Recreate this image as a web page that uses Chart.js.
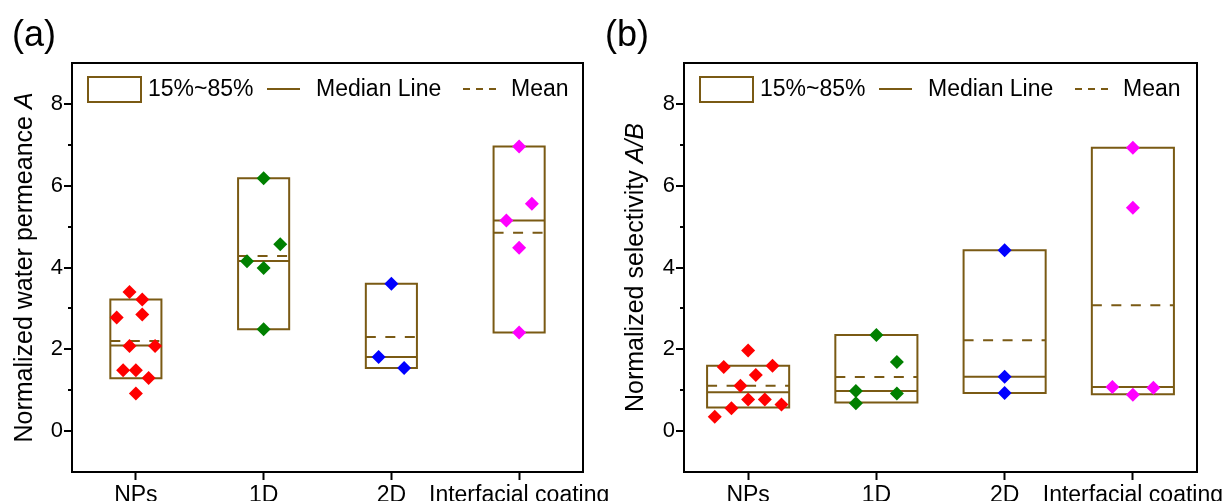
<!DOCTYPE html>
<html>
<head>
<meta charset="utf-8">
<script src="https://cdn.jsdelivr.net/npm/chart.js@4.4.1/dist/chart.umd.min.js"></script>
<style>
  body { margin: 0; background: #fff; width: 1227px; height: 501px; overflow: hidden; position: relative; }
  canvas { position: absolute; top: 0; }
  #chartA { left: 0; }
  #chartB { left: 600px; }
</style>
</head>
<body>
<canvas id="chartA" width="613" height="501"></canvas>
<canvas id="chartB" width="627" height="501"></canvas>
<script>
const categories = ['NPs', '1D', '2D', 'Interfacial coating'];
const yTickValues = [0, 1, 2, 3, 4, 5, 6, 7, 8];
const groupColors = ['#ff0000', '#008000', '#0000ff', '#ff00ff'];

// (a) normalized water permeance: points per group + horizontal jitter (category units)
const permNPs = [3.40, 3.22, 2.78, 2.85, 2.08, 2.08, 1.49, 1.49, 1.30, 0.92];
const permNPsOffset = [-0.05, 0.05, -0.15, 0.05, -0.05, 0.15, -0.10, 0, 0.10, 0];
const perm1D = [6.18, 4.57, 4.15, 3.99, 2.49];
const perm1DOffset = [0, 0.13, -0.13, 0, 0];
const perm2D = [3.60, 1.81, 1.54];
const perm2DOffset = [0, -0.10, 0.10];
const permIC = [6.96, 5.56, 5.15, 4.48, 2.41];
const permICOffset = [0, 0.10, -0.10, 0, 0];
// 15%~85% box, median, mean
const permLow = [1.29, 2.49, 1.54, 2.41];
const permHigh = [3.22, 6.18, 3.60, 6.96];
const permMedian = [2.09, 4.16, 1.81, 5.15];
const permMean = [2.20, 4.28, 2.30, 4.85];

// (b) normalized selectivity A/B
const selNPs = [1.97, 1.57, 1.60, 1.37, 1.11, 0.77, 0.77, 0.65, 0.56, 0.35];
const selNPsOffset = [0, -0.19, 0.19, 0.06, -0.06, 0, 0.13, 0.26, -0.13, -0.26];
const sel1D = [2.35, 1.69, 0.98, 0.92, 0.68];
const sel1DOffset = [0, 0.16, -0.16, 0.16, -0.16];
const sel2D = [4.42, 1.33, 0.93];
const sel2DOffset = [0, 0, 0];
const selIC = [6.93, 5.46, 1.08, 1.06, 0.89];
const selICOffset = [0, 0, -0.16, 0.16, 0];
const selLow = [0.58, 0.70, 0.93, 0.90];
const selHigh = [1.60, 2.35, 4.42, 6.93];
const selMedian = [0.95, 0.98, 1.33, 1.08];
const selMean = [1.11, 1.32, 2.22, 3.08];

const BOX = '#7a5a14';
const FONT = "'Liberation Sans', Arial, sans-serif";
Chart.defaults.font.family = FONT;
Chart.defaults.color = '#000';

function buildDatasets(groups, offsets, low, high, median, mean, boxWidth) {
    const ds = [];
    groups.forEach((vals, i) => {
        ds.push({
            data: vals.map((v, k) => ({ x: i + offsets[i][k], y: v })),
            pointStyle: 'rectRot',
            pointRadius: 7,
            backgroundColor: groupColors[i],
            borderColor: groupColors[i],
            borderWidth: 0,
            order: 0
        });
    });
    const line = { showLine: true, borderColor: BOX, borderWidth: 2, pointRadius: 0, fill: false,
        borderCapStyle: 'square', borderJoinStyle: 'miter', order: 1 };
    low.forEach((lo, i) => {
        const l = i - boxWidth / 2, r = i + boxWidth / 2;
        ds.push(Object.assign({}, line, {
            data: [{ x: l, y: lo }, { x: l, y: high[i] }, { x: r, y: high[i] }, { x: r, y: lo }, { x: l, y: lo }]
        }));
        ds.push(Object.assign({}, line, { borderCapStyle: 'butt', data: [{ x: l, y: median[i] }, { x: r, y: median[i] }] }));
        ds.push(Object.assign({}, line, { borderCapStyle: 'butt', borderDash: [10, 9.5], data: [{ x: l, y: mean[i] }, { x: r, y: mean[i] }] }));
    });
    return ds;
}

const decorations = {
    id: 'decorations',
    afterDraw(chart, args, o) {
        const ctx = chart.ctx, a = chart.chartArea, ys = chart.scales.y;
        ctx.save();
        // y ticks, major and minor
        ctx.strokeStyle = '#000';
        ctx.lineWidth = 2;
        yTickValues.forEach(v => {
            const py = Math.round(ys.getPixelForValue(v));
            const len = v % 2 === 0 ? 8 : 4;
            ctx.beginPath();
            ctx.moveTo(a.left - len, py);
            ctx.lineTo(a.left, py);
            ctx.stroke();
        });
        // frame
        ctx.strokeRect(a.left, a.top, a.right - a.left, a.bottom - a.top);

        // legend
        const lx = a.left, ly = a.top + 26;
        ctx.strokeStyle = BOX;
        ctx.strokeRect(lx + 16, a.top + 14, 53, 25);
        ctx.beginPath();
        ctx.moveTo(lx + 195, ly); ctx.lineTo(lx + 228, ly);
        ctx.stroke();
        ctx.setLineDash([7, 6]);
        ctx.beginPath();
        ctx.moveTo(lx + 391, ly); ctx.lineTo(lx + 428, ly);
        ctx.stroke();
        ctx.setLineDash([]);
        ctx.fillStyle = '#000';
        ctx.font = '23px ' + FONT;
        ctx.textBaseline = 'middle';
        ctx.fillText('15%~85%', lx + 76, ly + 1);
        ctx.fillText('Median Line', lx + 244, ly + 1);
        ctx.fillText('Mean', lx + 439, ly + 1);

        // y axis title with italic part
        ctx.save();
        ctx.translate(o.titleX, (a.top + a.bottom) / 2);
        ctx.rotate(-Math.PI / 2);
        ctx.textBaseline = 'alphabetic';
        const normal = '25px ' + FONT, italic = 'italic 25px ' + FONT;
        ctx.font = normal;
        const w1 = ctx.measureText(o.title).width;
        ctx.font = italic;
        const w2 = ctx.measureText(o.titleItalic).width;
        let x0 = -(w1 + w2) / 2;
        ctx.font = normal;
        ctx.fillText(o.title, x0, 0);
        ctx.font = italic;
        ctx.fillText(o.titleItalic, x0 + w1, 0);
        ctx.restore();

        // panel tag
        ctx.font = '36px ' + FONT;
        ctx.textBaseline = 'alphabetic';
        ctx.fillText(o.tag, o.tagX, 46);
        ctx.restore();
    }
};

function makeChart(id, datasets, yWidth, deco) {
    return new Chart(document.getElementById(id), {
        type: 'scatter',
        data: { datasets: datasets },
        options: {
            responsive: false,
            animation: false,
            devicePixelRatio: 1,
            layout: { padding: { top: 63, right: 30, bottom: 0, left: 0 } },
            plugins: { legend: { display: false }, tooltip: { enabled: false }, decorations: deco },
            scales: {
                x: {
                    type: 'linear', min: -0.5, max: 3.5,
                    afterBuildTicks: s => { s.ticks = [0, 1, 2, 3].map(v => ({ value: v })); },
                    afterFit: s => { s.height = 29; s.paddingLeft = 0; s.paddingRight = 0; },
                    ticks: { autoSkip: false, maxRotation: 0, minRotation: 0, padding: 2,
                        font: { size: 23 }, callback: v => categories[v] },
                    grid: { drawOnChartArea: false, drawTicks: true, tickLength: 8, tickColor: '#000', tickWidth: 2 },
                    border: { display: true, color: '#000', width: 2 }
                },
                y: {
                    min: -1, max: 9,
                    afterBuildTicks: s => { s.ticks = yTickValues.map(v => ({ value: v })); },
                    afterFit: s => { s.width = yWidth; },
                    ticks: { autoSkip: false, padding: 1, font: { size: 22 },
                        callback: v => (v % 2 === 0 ? String(v) : '') },
                    grid: { drawOnChartArea: false, drawTicks: true, tickLength: 8, tickColor: 'rgba(0,0,0,0)' },
                    border: { display: true, color: '#000', width: 2 }
                }
            }
        },
        plugins: [decorations]
    });
}

makeChart('chartA',
    buildDatasets([permNPs, perm1D, perm2D, permIC],
        [permNPsOffset, perm1DOffset, perm2DOffset, permICOffset],
        permLow, permHigh, permMedian, permMean, 0.4),
    72,
    { title: 'Normalized water permeance ', titleItalic: 'A', titleX: 32, tag: '(a)', tagX: 12 });

makeChart('chartB',
    buildDatasets([selNPs, sel1D, sel2D, selIC],
        [selNPsOffset, sel1DOffset, sel2DOffset, selICOffset],
        selLow, selHigh, selMedian, selMean, 0.64),
    84,
    { title: 'Normalized selectivity ', titleItalic: 'A/B', titleX: 43, tag: '(b)', tagX: 5 });
</script>
</body>
</html>
